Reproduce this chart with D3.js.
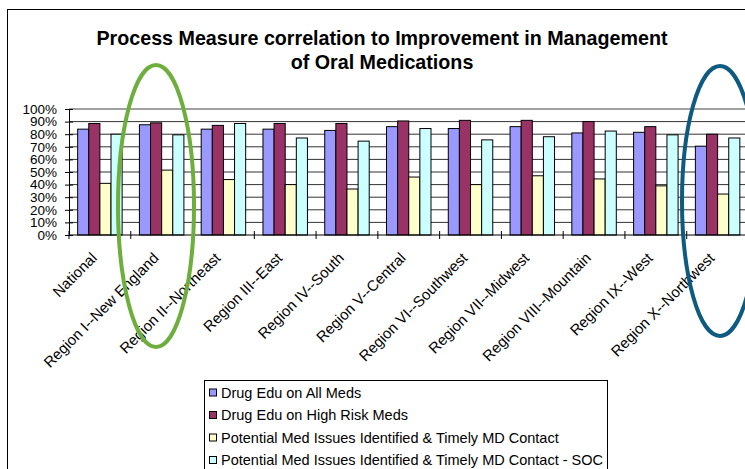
<!DOCTYPE html>
<html>
<head>
<meta charset="utf-8">
<script src="https://cdn.jsdelivr.net/npm/d3@7"></script>
<style>
  body { margin: 0; background: #fff; }
  svg { display: block; font-family: Arial, "Liberation Sans", sans-serif; }
</style>
</head>
<body>
<div id="chart"></div>
<script>
// chart data
var regions = ["National", "Region I--New England", "Region II--Northeast", "Region III--East",
  "Region IV--South", "Region V--Central", "Region VI--Southwest", "Region VII--Midwest",
  "Region VIII--Mountain", "Region IX--West", "Region X--Northwest"];
var series_names = ["Drug Edu on All Meds", "Drug Edu on High Risk Meds",
  "Potential Med Issues Identified & Timely MD Contact",
  "Potential Med Issues Identified & Timely MD Contact - SOC"];
var drug_edu_all = [84, 87.5, 84, 84, 83, 86, 84.5, 86, 81, 81.5, 70.5];
var drug_edu_high = [88.5, 89, 87, 88.5, 88.5, 90.5, 91, 91, 90, 86, 80];
var med_issues = [41, 51.5, 44, 40, 36.5, 46, 40, 47, 44.5, 39, 32.5];
var med_issues_soc = [80, 79.5, 88.5, 77, 74.5, 84.5, 75.5, 78, 82.5, 79.5, 77];
var y_ticks = [0, 10, 20, 30, 40, 50, 60, 70, 80, 90, 100];
var colors = ["#9999ff", "#993366", "#ffffcc", "#ccffff"];

var all_series = [drug_edu_all, drug_edu_high, med_issues, med_issues_soc];

var W = 745, H = 469;
var plot = {left: 69, right: 748.5, top: 109, bottom: 235};

var svg = d3.select("#chart").append("svg")
    .attr("width", W)
    .attr("height", H);

// outer chart border (runs off the right and bottom)
svg.append("rect")
    .attr("x", 7.5).attr("y", 9.5)
    .attr("width", W).attr("height", H)
    .attr("fill", "#fff")
    .attr("stroke", "#000");

// Title
var title = svg.append("text")
    .attr("text-anchor", "middle")
    .attr("font-weight", "bold")
    .attr("font-size", 19.7)
    .attr("fill", "#000");
title.append("tspan").attr("x", 382).attr("y", 45)
    .text("Process Measure correlation to Improvement in Management");
title.append("tspan").attr("x", 382).attr("y", 69)
    .text("of Oral Medications");

var x = d3.scaleBand()
    .domain(regions)
    .range([plot.left, plot.right])
    .paddingInner(0.28)
    .paddingOuter(0.14);

var x_sub = d3.scaleBand()
    .domain(d3.range(all_series.length))
    .range([0, x.bandwidth()]);

var y = d3.scaleLinear()
    .domain([0, 100])
    .range([plot.bottom, plot.top]);

// gridlines
svg.append("g")
    .selectAll("line")
    .data(y_ticks.slice(1))
    .join("line")
    .attr("x1", plot.left).attr("x2", plot.right)
    .attr("y1", function(d) { return y(d); })
    .attr("y2", function(d) { return y(d); })
    .attr("stroke", function(d) { return d == 100 ? "#808080" : "#333"; })
    .attr("stroke-width", function(d) { return d == 100 ? 1.5 : 1; });

// bars
var groups = svg.append("g")
    .selectAll("g")
    .data(regions)
    .join("g")
    .attr("transform", function(d) { return "translate(" + x(d) + ",0)"; });

groups.selectAll("rect")
    .data(function(d, i) { return all_series.map(function(s, k) { return {k: k, v: s[i]}; }); })
    .join("rect")
    .attr("x", function(d) { return x_sub(d.k); })
    .attr("width", x_sub.bandwidth())
    .attr("y", function(d) { return y(d.v); })
    .attr("height", function(d) { return y(0) - y(d.v); })
    .attr("fill", function(d) { return colors[d.k]; })
    .attr("stroke", "#000")
    .attr("stroke-width", 1);

// AXIS - y
var y_axis = svg.append("g")
    .attr("transform", "translate(" + plot.left + ",0)")
    .call(d3.axisLeft(y)
        .tickValues(y_ticks)
        .tickSize(4)
        .tickPadding(8)
        .tickFormat(function(d) { return d + "%"; }));
y_axis.select(".domain").attr("stroke", "#000");
y_axis.selectAll(".tick line").attr("x1", 4).attr("x2", -4);
y_axis.selectAll("text")
    .attr("font-size", 13.5)
    .attr("font-family", "Arial, 'Liberation Sans', sans-serif")
    .attr("fill", "#000");

// AXIS - x, ticks between categories
var boundaries = regions.map(function(d) { return x(d) - x.step() * x.paddingInner() / 2; });
boundaries.push(plot.right);
svg.append("line")
    .attr("x1", plot.left).attr("x2", plot.right)
    .attr("y1", plot.bottom).attr("y2", plot.bottom)
    .attr("stroke", "#000");
svg.append("g")
    .selectAll("line")
    .data(boundaries)
    .join("line")
    .attr("x1", function(d) { return d; }).attr("x2", function(d) { return d; })
    .attr("y1", plot.bottom - 4).attr("y2", plot.bottom + 4)
    .attr("stroke", "#000");

svg.append("g")
    .selectAll("text")
    .data(regions)
    .join("text")
    .attr("transform", function(d) {
      return "translate(" + (x(d) + x.bandwidth() / 2 - 10) + "," + 251 + ") rotate(-45)";
    })
    .attr("text-anchor", "end")
    .attr("dy", "0.75em")
    .attr("font-size", 15)
    .attr("fill", "#000")
    .text(function(d) { return d; });

// legend
var legend = svg.append("g");
legend.append("rect")
    .attr("x", 204.5).attr("y", 380.5)
    .attr("width", 403).attr("height", 120)
    .attr("fill", "#fff")
    .attr("stroke", "#000");

var items = legend.selectAll("g.item")
    .data(series_names)
    .join("g")
    .attr("class", "item")
    .attr("transform", function(d, i) { return "translate(0," + (392.5 + i * 22.5) + ")"; });
items.append("rect")
    .attr("x", 209.5).attr("y", -3.5)
    .attr("width", 7).attr("height", 7)
    .attr("fill", function(d, i) { return colors[i]; })
    .attr("stroke", "#000");
items.append("text")
    .attr("x", 221)
    .attr("dy", "0.35em")
    .attr("font-size", 14.5)
    .attr("fill", "#000")
    .text(function(d) { return d; });

// hand drawn highlight ellipses
svg.append("ellipse")
    .attr("cx", 156).attr("cy", 206)
    .attr("rx", 38).attr("ry", 141)
    .attr("fill", "none")
    .attr("stroke", "#6dae3c")
    .attr("stroke-width", 4);
svg.append("ellipse")
    .attr("cx", 720).attr("cy", 201)
    .attr("rx", 38).attr("ry", 135)
    .attr("fill", "none")
    .attr("stroke", "#0e5a80")
    .attr("stroke-width", 4);
</script>
</body>
</html>
